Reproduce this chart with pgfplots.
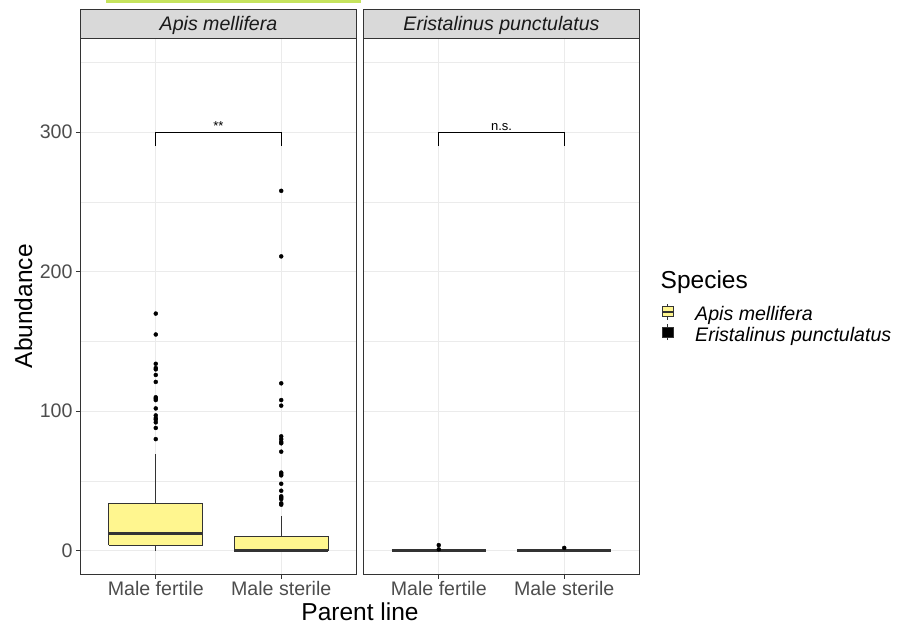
\documentclass[border=0pt]{standalone}
\usepackage{fontspec}
\setmainfont{Liberation Sans}
\usepackage{pgfplots}
\pgfplotsset{compat=1.18}
\definecolor{gridc}{HTML}{EBEBEB}
\definecolor{bordc}{HTML}{333333}
\definecolor{tickl}{HTML}{4D4D4D}
\definecolor{stripc}{HTML}{D9D9D9}
\definecolor{apis}{HTML}{FFF68F}
\definecolor{topbar}{HTML}{C5E35D}
\newcommand{\ticksize}{\fontsize{19.6}{23}\selectfont}
\newcommand{\titlesize}{\fontsize{24.5}{29}\selectfont}
\pgfplotsset{
  panel/.style={
    scale only axis, width=276pt, height=535.5pt,
    xmin=0.4, xmax=2.6, ymin=-16.7, ymax=367.2,
    xtick={1,2}, xticklabels={Male fertile, Male sterile},
    ytick={0,100,200,300}, minor ytick={50,150,250,350},
    grid=both,
    major grid style={gridc, line width=1pt},
    minor grid style={gridc, line width=0.5pt},
    axis line style={bordc, line width=0.9pt},
    tick style={bordc, line width=0.9pt},
    tick align=outside, major tick length=4.5pt, minor tick length=0pt,
    xtick pos=left, ytick pos=left,
    ticklabel style={font=\ticksize, text=tickl},
    xticklabel style={inner sep=0pt, yshift=-3pt},
    yticklabel style={inner sep=0pt, xshift=-3.3pt},
    /pgf/number format/assume math mode=true,
  },
  ln/.style={bordc, line width=1.2pt, mark=none},
  med/.style={bordc, line width=3pt, mark=none},
  box/.style={draw=bordc, fill=apis, line width=1.2pt, mark=none},
  out/.style={only marks, mark=*, mark size=2pt, black, mark options={fill=black, draw=black}},
}
\begin{document}
\begin{tikzpicture}
\useasboundingbox (0pt,0pt) rectangle (897pt,625pt);
\fill[topbar] (106pt,625pt) rectangle (361pt,622pt);
% left panel
\begin{axis}[panel, at={(80.5pt,51pt)}, anchor=south west]
% Male fertile
\addplot[out] coordinates {(1,170) (1,155) (1,134) (1,131) (1,130) (1,126) (1,121) (1,110) (1,109) (1,108) (1,102) (1,97) (1,95) (1,94) (1,92) (1,88) (1,80)};
\addplot[ln] coordinates {(1,0) (1,4)};
\addplot[ln] coordinates {(1,34) (1,69)};
\addplot[box] coordinates {(0.625,4) (1.375,4) (1.375,34) (0.625,34) (0.625,4)};
\addplot[med] coordinates {(0.625,12) (1.375,12)};
% Male sterile
\addplot[out] coordinates {(2,258) (2,211) (2,120) (2,108) (2,104) (2,82) (2,80) (2,78) (2,77) (2,71) (2,56) (2,55) (2,54) (2,48) (2,43) (2,39) (2,38) (2,37) (2,34) (2,33)};
\addplot[ln] coordinates {(2,10) (2,25)};
\addplot[box] coordinates {(1.625,0) (2.375,0) (2.375,10) (1.625,10) (1.625,0)};
\addplot[med] coordinates {(1.625,0) (2.375,0)};
% significance bracket
\addplot[black, line width=1.1pt, mark=none] coordinates {(1,290) (1,300) (2,300) (2,290)};
\node[font=\fontsize{13}{15}\selectfont, anchor=base] at (axis cs:1.5,301.5) {**};
\end{axis}
% right panel
\begin{axis}[panel, at={(363.5pt,51pt)}, anchor=south west, yticklabels={}, ytick style={draw=none}]
\addplot[out] coordinates {(1,4) (1,1)};
\addplot[bordc, line width=3pt, mark=none] coordinates {(0.625,0) (1.375,0)};
\addplot[out] coordinates {(2,2)};
\addplot[bordc, line width=3pt, mark=none] coordinates {(1.625,0) (2.375,0)};
\addplot[black, line width=1.1pt, mark=none] coordinates {(1,290) (1,300) (2,300) (2,290)};
\node[font=\fontsize{13}{15}\selectfont, anchor=base] at (axis cs:1.5,301.5) {n.s.};
\end{axis}
% strips
\draw[fill=stripc, draw=bordc, line width=0.9pt] (80.5pt,586.5pt) rectangle (356.5pt,615.5pt);
\draw[fill=stripc, draw=bordc, line width=0.9pt] (363.5pt,586.5pt) rectangle (639.5pt,615.5pt);
\node[font=\ticksize\itshape, text=black!90, anchor=base] at (218.5pt,594pt) {Apis mellifera};
\node[font=\ticksize\itshape, text=black!90, anchor=base] at (501.5pt,594pt) {Eristalinus punctulatus};
% axis titles
\node[font=\titlesize, rotate=90, anchor=base] at (32pt,318.75pt) {Abundance};
\node[font=\titlesize, anchor=base] at (360pt,5pt) {Parent line};
% legend
\node[font=\titlesize, anchor=base west, inner sep=0pt] at (660.5pt,337pt) {Species};
\draw[bordc, line width=1pt] (667.7pt,305.5pt) -- (667.7pt,321.5pt);
\draw[fill=apis, draw=bordc, line width=1pt] (662.2pt,308.5pt) rectangle (673.2pt,318.5pt);
\draw[bordc, line width=2pt] (662.2pt,313.5pt) -- (673.2pt,313.5pt);
\draw[bordc, line width=1pt] (667.7pt,285pt) -- (667.7pt,301pt);
\draw[fill=black, draw=bordc, line width=1pt] (662.2pt,288pt) rectangle (673.2pt,298pt);
\node[font=\ticksize\itshape, anchor=base west, inner sep=0pt] at (695pt,305pt) {Apis mellifera};
\node[font=\ticksize\itshape, anchor=base west, inner sep=0pt] at (695pt,284pt) {Eristalinus punctulatus};
\end{tikzpicture}
\end{document}
